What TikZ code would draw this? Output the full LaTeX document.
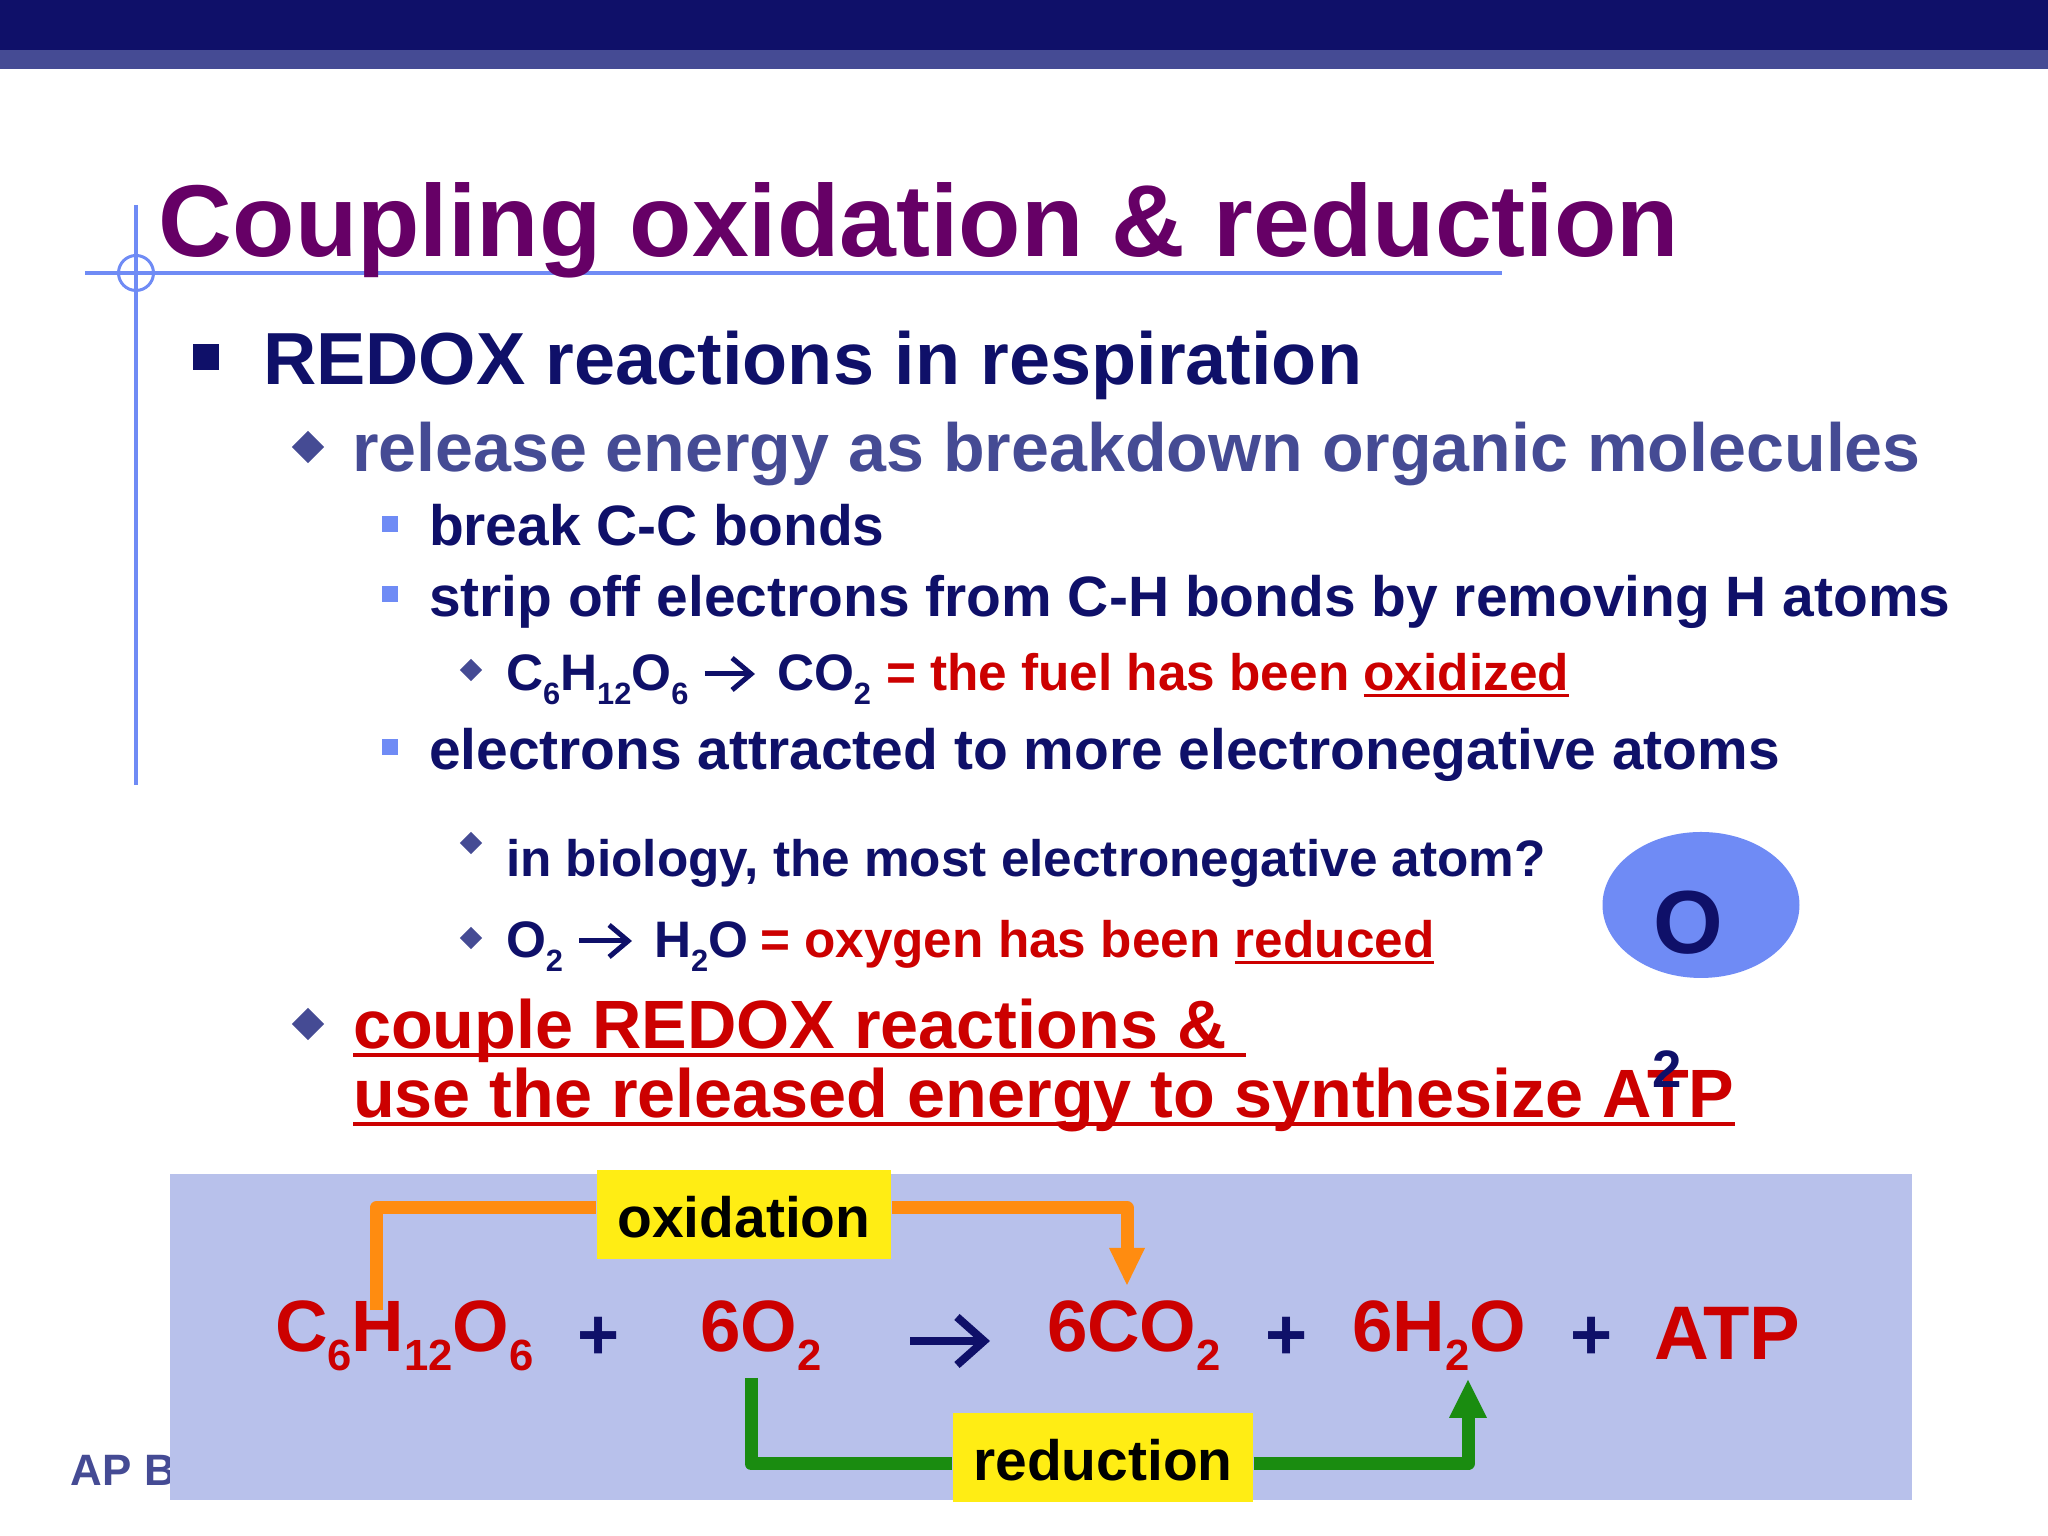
\documentclass[tikz,border=0pt]{standalone}
\usepackage{fontspec,graphicx}
\setmainfont{Liberation Sans}[Scale=1]
\usetikzlibrary{arrows.meta,shapes.geometric}
\definecolor{navy}{HTML}{0F1069}
\definecolor{midblue}{HTML}{454B94}
\definecolor{lightblue}{HTML}{6F8BF5}
\definecolor{plum}{HTML}{660066}
\definecolor{redtext}{HTML}{CC0000}
\definecolor{panel}{HTML}{B8C1EB}
\definecolor{labelyellow}{HTML}{FFED14}
\definecolor{oxorange}{HTML}{FF8C10}
\definecolor{redgreen}{HTML}{1A8C10}
\newcommand{\chemlow}[1]{\raisebox{-.26em}{\scalebox{.6}{#1}}}
\newcommand{\lined}[1]{\setbox0\hbox{#1}\rlap{\rule[-.12em]{\wd0}{.055em}}\box0}
\newcommand{\sized}[1]{\fontsize{#1}{#1}\selectfont\bfseries}
\tikzset{
  txt/.style={anchor=base west,inner sep=0pt,outer sep=0pt},
  level1/.style={txt,text=navy,font=\sized{21pt}},
  level2/.style={txt,text=midblue,font=\sized{19.4pt}},
  level3/.style={txt,text=navy,font=\sized{16.2pt}},
  level4/.style={txt,text=navy,font=\sized{14.6pt}},
  note/.style={txt,text=redtext,font=\sized{14.6pt}},
  big/.style={txt,text=redtext,font=\sized{19.45pt}},
  chem/.style={txt,text=redtext,font=\sized{20.7pt}},
  plus/.style={anchor=center,inner sep=0pt,text=navy,font=\sized{20.5pt}},
  tag/.style={fill=labelyellow,text=black,inner sep=0pt,text height=13.5pt,font=\sized{16.2pt}},
  squarebul/.style={fill=navy,inner sep=0pt,minimum size=.26cm},
  smallsq/.style={fill=lightblue,inner sep=0pt,minimum size=.16cm},
  bigdiam/.style={diamond,fill=midblue,inner sep=0pt,minimum size=.33cm},
  smalldiam/.style={diamond,fill=midblue,inner sep=0pt,minimum size=.23cm},
  textarrow/.style={navy,line width=.5mm,-{Straight Barb[length=1.9mm,width=3.2mm,line width=.5mm]}},
  eqarrow/.style={navy,line width=.8mm,-{Straight Barb[length=2.7mm,width=4.8mm,line width=.8mm]}},
  oxline/.style={oxorange,line width=1.3mm,line join=round},
  redline/.style={redgreen,line width=1.3mm,line join=round}
}
\begin{document}
\begin{tikzpicture}
\useasboundingbox (0,0) rectangle (20.48,15.36);
% top bands
\fill[navy] (0,14.86) rectangle (20.48,15.36);
\fill[midblue] (0,14.67) rectangle (20.48,14.86);
% title rule
\draw[lightblue,line width=.4mm] (0.85,12.63)--(15.02,12.63);
\draw[lightblue,line width=.4mm] (1.36,13.31)--(1.36,7.51);
\draw[lightblue,line width=.3mm] (1.36,12.63) circle (0.175);
\node[txt,text=plum,font=\sized{29.05pt}] (title) at (1.59,12.79) {Coupling oxidation \& reduction};
% bullets
\node[squarebul] (b1) at (2.06,11.79) {};
\node[level1] (redox) at (2.63,11.51) {REDOX reactions in respiration};
\node[bigdiam] (b2) at (3.08,10.89) {};
\node[level2] (release) at (3.52,10.64) {release energy as breakdown organic molecules};
\node[smallsq] (b3) at (3.90,10.12) {};
\node[level3] (breakcc) at (4.29,9.90) {break C-C bonds};
\node[smallsq] (b4) at (3.90,9.42) {};
\node[level3] (strip) at (4.29,9.19) {strip off electrons from C-H bonds by removing H atoms};
\node[smalldiam] (b5) at (4.71,8.66) {};
\node[level4] (fuel) at (5.06,8.45) {C\chemlow{6}H\chemlow{12}O\chemlow{6}};
\node[level4] (co) at (7.77,8.45) {CO\chemlow{2}};
\node[note] (fuelnote) at (8.86,8.45) {= the fuel has been \lined{oxidized}};
\node[smallsq] (b6) at (3.90,7.89) {};
\node[level3] (attract) at (4.29,7.66) {electrons attracted to more electronegative atoms};
\node[smalldiam] (b7) at (4.71,6.93) {};
\node[level4] (biology) at (5.06,6.59) {in biology, the most electronegative atom?};
\node[smalldiam] (b8) at (4.71,5.98) {};
\node[level4] (oxy) at (5.06,5.78) {O\chemlow{2}};
\node[level4] (water) at (6.54,5.78) {H\chemlow{2}O};
\node[note] (oxynote) at (7.60,5.78) {= oxygen has been \lined{reduced}};
\node[bigdiam] (b9) at (3.08,5.12) {};
\node[big] (couple) at (3.53,4.87) {\lined{couple REDOX reactions \& }};
\node[big] (synth) at (3.53,4.18) {\lined{use the released energy to synthesize ATP}};
\draw[textarrow] ([shift={(0.16,0.17)}]fuel.base east)--([shift={(-0.22,0.17)}]co.base west);
\draw[textarrow] ([shift={(0.16,0.17)}]oxy.base east)--([shift={(-0.22,0.17)}]water.base west);
% answer
\node[ellipse,fill=lightblue,minimum width=1.97cm,minimum height=1.46cm,inner sep=0pt] (answer) at (17.01,6.31) {};
\node[txt,text=navy,font=\sized{25.5pt}] (oatom) at (16.53,5.82) {O};
\node[txt,text=navy,font=\sized{15pt}] (otwo) at (16.52,4.48) {2};
% footer and panel
\node[txt,text=midblue,font=\sized{12.5pt}] (footer) at (0.71,0.50) {AP B};
\fill[panel] (1.70,0.36) rectangle (19.12,3.62);
% equation
\node[chem] (glucose) at (2.75,1.84) {C\chemlow{6}H\chemlow{12}O\chemlow{6}};
\node[plus] (plusa) at (5.985,1.98) {+};
\node[chem] (oxygen) at (7.00,1.84) {6O\chemlow{2}};
\node[chem] (carbon) at (10.47,1.84) {6CO\chemlow{2}};
\node[plus] (plusb) at (12.865,1.98) {+};
\node[chem] (wat) at (13.52,1.84) {6H\chemlow{2}O};
\node[plus] (plusc) at (15.92,1.98) {+};
\node[chem,font=\sized{21.6pt}] (atp) at (16.54,1.76) {ATP};
\draw[eqarrow] ([shift={(0.89,0.11)}]oxygen.base east)--([shift={(-0.57,0.11)}]carbon.base west);
% labels with their arrows
\node[tag,minimum width=2.94cm,minimum height=.89cm] (oxlabel) at (7.44,3.215) {oxidation};
\node[tag,minimum width=3.00cm,minimum height=.89cm] (redlabel) at (11.03,0.785) {reduction};
\coordinate (oxstart) at (3.76,2.26);
\coordinate (oxend) at (11.27,2.51);
\coordinate (redstart) at (7.51,1.58);
\coordinate (redend) at (14.68,1.56);
\draw[oxline] (oxstart)--(3.76,3.28)--(oxlabel.west|-0,3.28);
\draw[oxline,-{Triangle[length=3.7mm,width=3.6mm,line width=0pt]}] (oxlabel.east|-0,3.28)--(11.27,3.28)--(oxend);
\draw[redline] (redstart)--(7.51,0.72)--(redlabel.west|-0,0.72);
\draw[redline,-{Triangle[length=3.8mm,width=3.8mm,line width=0pt]}] (redlabel.east|-0,0.72)--(14.68,0.72)--(redend);
\end{tikzpicture}
\end{document}
